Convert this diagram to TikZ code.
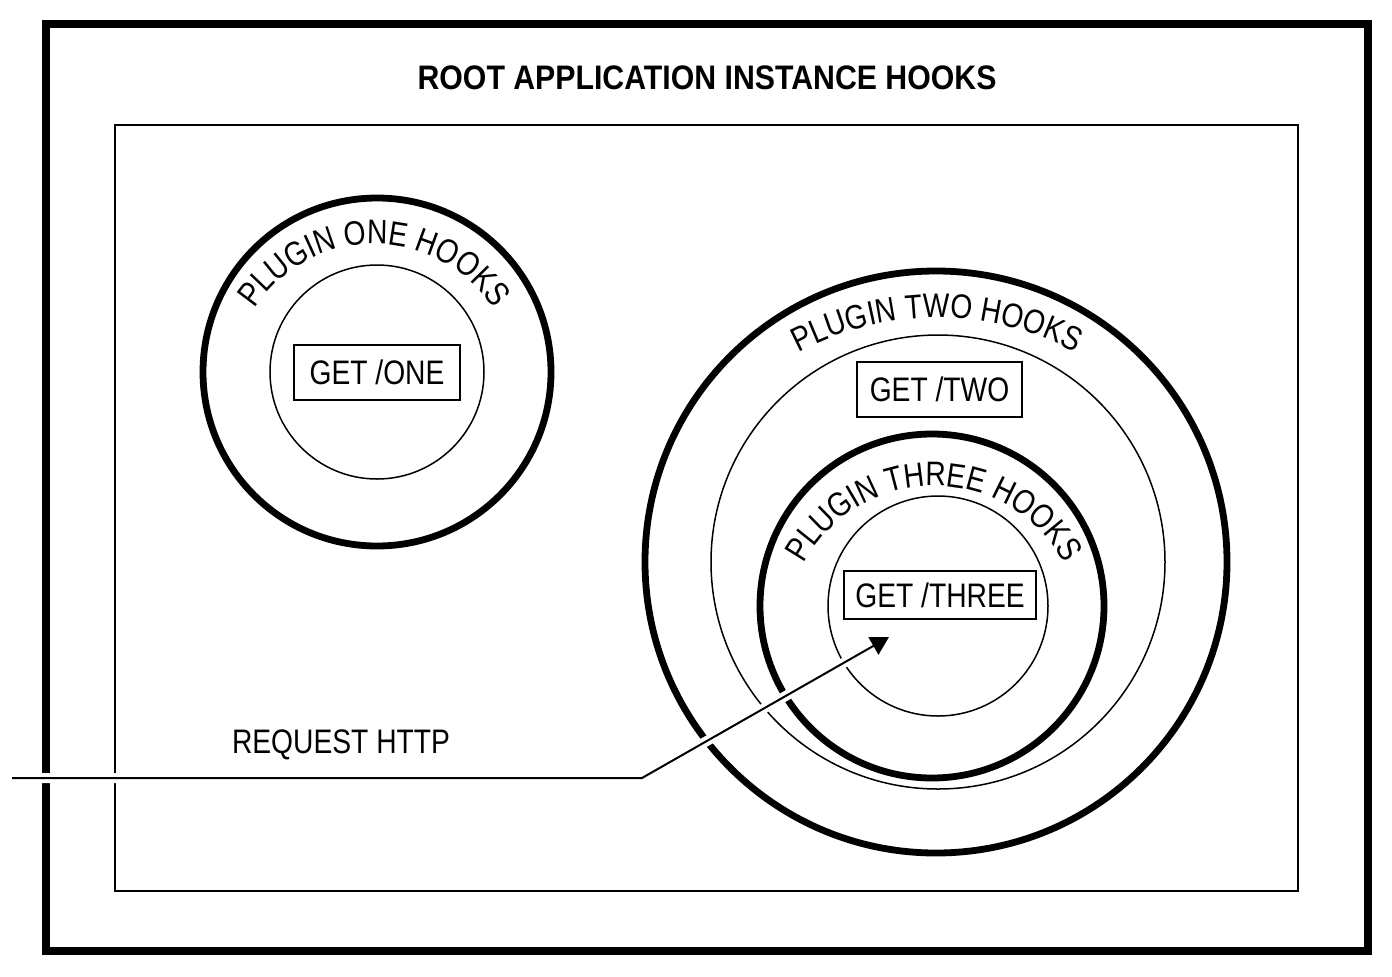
\documentclass[tikz,border=0pt]{standalone}
\usepackage{fontspec}
\setmainfont{Liberation Sans}[FakeStretch=0.83]
\newfontfamily\titlefont{Liberation Sans}[FakeStretch=0.89]
\usetikzlibrary{arrows.meta,decorations.text}
\newcommand\ringfont{\fontsize{17}{20}\selectfont}
\tikzset{
  hookring/.style={line width=3.4pt},
  routering/.style={line width=0.75pt},
  routebox/.style={draw, line width=0.9pt, inner sep=0pt, font=\ringfont},
  ringtext/.style={decorate, decoration={text along path, text align=center, text={|\ringfont|#1}}},
}
\begin{document}
\begin{tikzpicture}[x=0.5pt, y=-0.5pt]
\useasboundingbox (0,0) rectangle (1392,976);

% frames
\draw[line width=4pt] (46,24) rectangle (1368,951);
\draw[line width=0.8pt] (115,125) rectangle (1298,891);
\node[font=\titlefont\bfseries\fontsize{17}{20}\selectfont] (title) at (707,78) {ROOT APPLICATION INSTANCE HOOKS};

% plugin one
\draw[hookring] (377,372) circle (174);
\draw[routering] (377,372) circle (107);
\path[ringtext=PLUGIN ONE HOOKS] (374,387) ++(180:143) arc[start angle=180, end angle=360, radius=143];
\node[routebox, minimum width=83pt, minimum height=27.5pt] (one) at (377,372.5) {GET /ONE};

% plugin two
\draw[hookring] (936,562) circle (291);
\draw[routering] (938,562) circle (227);
\path[ringtext=PLUGIN TWO HOOKS] (937,614) ++(200:296) arc[start angle=200, end angle=340, radius=296];
\node[routebox, minimum width=82.5pt, minimum height=27.5pt] (two) at (939.5,389.5) {GET /TWO};

% plugin three
\draw[hookring] (932,606) circle (172);
\draw[routering] (938,606) circle (110);
\path[ringtext=PLUGIN THREE HOOKS] (934,634) ++(180:148) arc[start angle=180, end angle=360, radius=148];
\node[routebox, minimum width=96pt, minimum height=24pt] (three) at (940,595) {GET /THREE};

% request
\node[font=\ringfont, anchor=base] (req) at (341,753) {REQUEST HTTP};
\coordinate (src) at (12,778);
\coordinate (bend) at (642,778);
\coordinate (hit) at (889,637);
\draw[line width=1pt, -{Triangle[length=9pt,width=10pt]}, preaction={draw=white, line width=5pt, arrows=-}] (src) -- (bend) -- (hit);
\end{tikzpicture}
\end{document}
